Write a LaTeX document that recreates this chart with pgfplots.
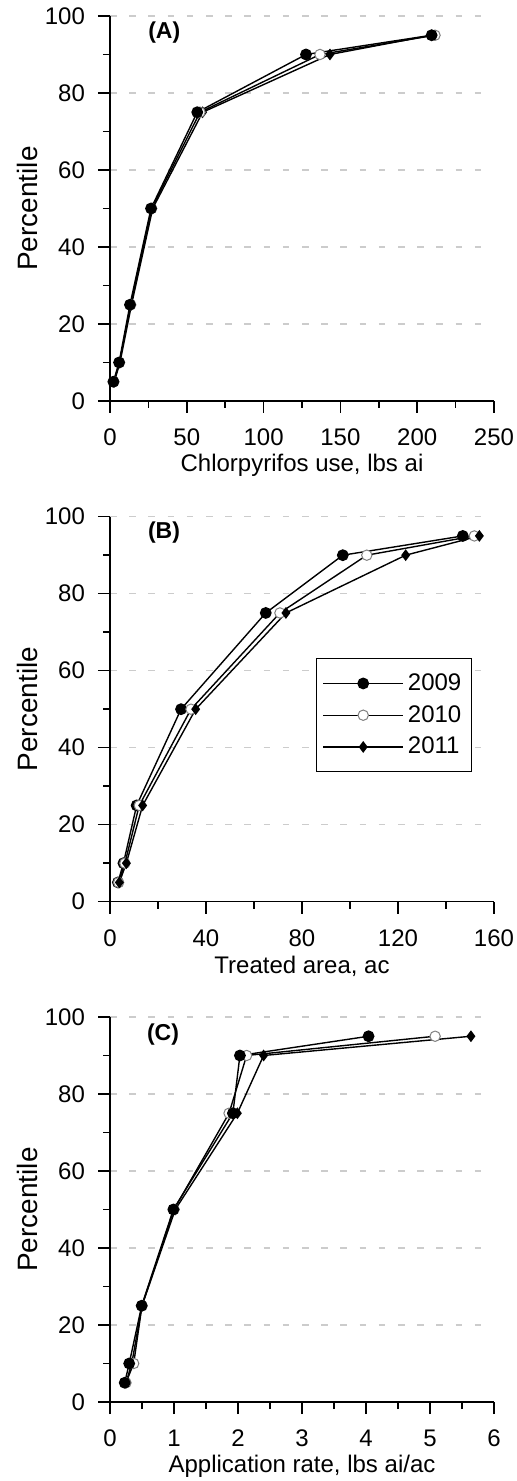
\documentclass[border=0pt]{standalone}
\usepackage{fontspec}
\setmainfont{Liberation Sans}
\usepackage{pgfplots}
\pgfplotsset{compat=1.18}

\pgfplotsset{
  panel/.style={
    scale only axis, width=192pt, height=192.5pt,
    xmin=0, ymin=0, ymax=100,
    axis x line=bottom, axis y line=left,
    axis line style={-, line width=0.8pt},
    tick align=outside,
    major tick length=6pt, minor tick length=3.5pt,
    every tick/.style={black, line width=0.8pt},
    ytick={0,20,...,100}, minor y tick num=1,
    minor x tick num=1,
    ymajorgrids,
    grid style={gray!40, line width=0.6pt, dash pattern=on 3.3pt off 6.3pt},
    tick label style={font=\fontsize{12}{14}\selectfont},
    xticklabel style={yshift=-4.5pt},
    yticklabel style={xshift=-3pt},
    /pgf/number format/assume math mode=true,
    xlabel style={at={(axis description cs:0.5,-0.168)}, anchor=center, font=\fontsize{12}{14}\selectfont},
    ylabel style={at={(axis description cs:-0.216,0.5)}, anchor=center, font=\fontsize{14}{16}\selectfont},
    ylabel={Percentile},
    clip=false,
    legend cell align=left,
  },
  s09/.style={black, line width=0.7pt, mark=*, mark size=2.6pt, mark options={solid, fill=black}},
  s10/.style={black, line width=0.7pt, mark=*, mark size=2.6pt, mark options={solid, draw=gray, fill=white, line width=0.5pt}},
  s11/.style={black, line width=0.7pt, mark=diamond*, mark size=2.4pt, mark options={solid, fill=black}},
}

\begin{document}
\begin{tikzpicture}
\path[use as bounding box] (0,0) rectangle (258.5pt,740.5pt);

% Panel A
\begin{axis}[panel, at={(55pt,540pt)}, anchor=south west,
  xmax=250, xtick={0,50,...,250},
  xlabel={Chlorpyrifos use, lbs ai}]
\addplot[s11] coordinates {(2.8,5) (6.5,10) (14,25) (27.8,50) (60.3,75) (143.2,90) (209.4,95)};
\addplot[s10] coordinates {(2.5,5) (6.2,10) (13.5,25) (27.1,50) (58.6,75) (136.7,90) (211.6,95)};
\addplot[s09] coordinates {(2.2,5) (5.9,10) (13,25) (26.7,50) (56.8,75) (127.6,90) (209.4,95)};
\node[anchor=west, font=\fontsize{11.5}{13}\selectfont\bfseries, inner sep=0pt] at (axis cs:24.7,95.8) {(A)};
\end{axis}

% Panel B
\begin{axis}[panel, at={(55pt,289.65pt)}, anchor=south west,
  xmax=160, xtick={0,40,...,160},
  xlabel={Treated area, ac},
  legend image code/.code={\draw[mark repeat=2,mark phase=2,#1] plot coordinates {(0pt,0pt) (20pt,0pt) (40pt,0pt)};},
  legend style={at={(axis cs:85.8,63.3)}, anchor=north west, draw=black, line width=0.6pt,
    font=\fontsize{12}{14}\selectfont,
    inner xsep=3pt, inner ysep=5.5pt, row sep=2pt,
    /tikz/every even column/.append style={column sep=3pt}}]
\addplot[s09] coordinates {(3.3,5) (5.6,10) (11.1,25) (29.6,50) (64.9,75) (97,90) (147,95)};
\addlegendentry{2009}
\addplot[s10] coordinates {(3.6,5) (6.2,10) (12.2,25) (33.75,50) (70.8,75) (107,90) (151.8,95)};
\addlegendentry{2010}
\addplot[s11] coordinates {(3.9,5) (6.8,10) (13.6,25) (35.7,50) (73.3,75) (123.2,90) (153.9,95)};
\addlegendentry{2011}
\node[anchor=west, font=\fontsize{11.5}{13}\selectfont\bfseries, inner sep=0pt] at (axis cs:15.7,95.8) {(B)};
\end{axis}

% Panel C
\begin{axis}[panel, at={(55pt,39.5pt)}, anchor=south west,
  xmax=6, xtick={0,1,...,6},
  xlabel={Application rate, lbs ai/ac}]
\addplot[s11] coordinates {(0.25,5) (0.34,10) (0.5,25) (1.02,50) (1.99,75) (2.40,90) (5.64,95)};
\addplot[s10] coordinates {(0.25,5) (0.37,10) (0.5,25) (1.0,50) (1.86,75) (2.135,90) (5.08,95)};
\addplot[s09] coordinates {(0.23,5) (0.30,10) (0.495,25) (0.99,50) (1.92,75) (2.03,90) (4.04,95)};
\node[anchor=west, font=\fontsize{11.5}{13}\selectfont\bfseries, inner sep=0pt] at (axis cs:0.573,95.5) {(C)};
\end{axis}
\end{tikzpicture}
\end{document}
